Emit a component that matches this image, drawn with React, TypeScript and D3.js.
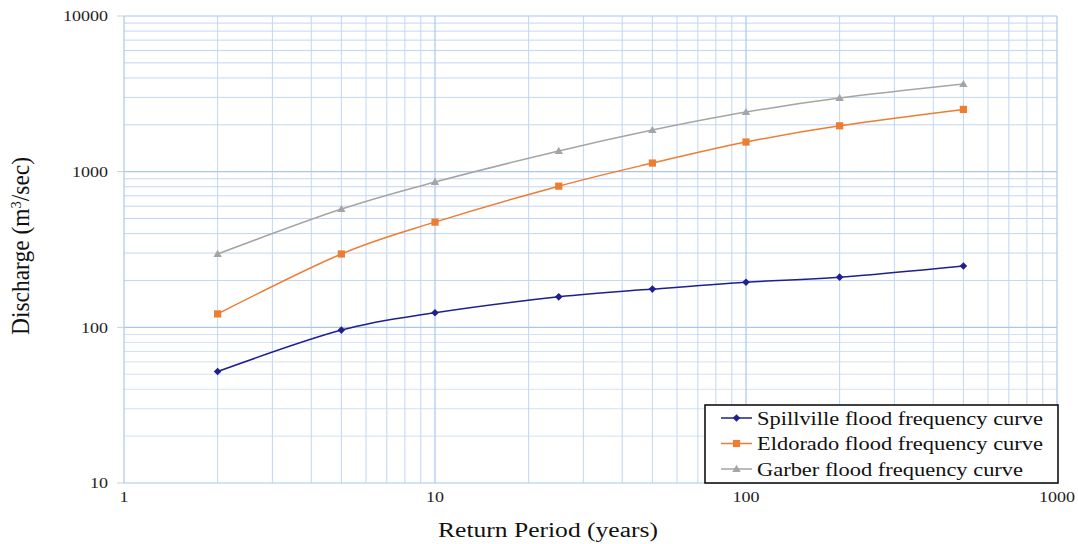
import React from "react";
import * as d3 from "d3";

const returnPeriods = [2, 5, 10, 25, 50, 100, 200, 500];
const spillville = [52, 96, 124, 157, 176, 195, 210, 248];
const eldorado = [122, 296, 474, 807, 1136, 1550, 1970, 2510];
const garber = [296, 575, 858, 1357, 1850, 2414, 2970, 3653];
const seriesNames = [
  "Spillville flood frequency curve",
  "Eldorado flood frequency curve",
  "Garber flood frequency curve",
];
const seriesColors = ["#1f1f8f", "#ed7d31", "#a5a5a5"];
const xTicks = [1, 10, 100, 1000];
const yTicks = [10, 100, 1000, 10000];

const W = 1078;
const H = 544;
const M = { left: 124, right: 1057, top: 16, bottom: 483 };
const SX = 1.2;
const FONT = { fontFamily: "Liberation Serif" };

function Marker({ kind, x, y, color }: { kind: number; x: number; y: number; color: string }) {
  if (kind === 0) {
    const s = 3.8;
    return <path d={`M${x},${y - s}L${x + s},${y}L${x},${y + s}L${x - s},${y}Z`} fill={color} />;
  }
  if (kind === 1) {
    return <rect x={x - 3.6} y={y - 3.6} width={7.2} height={7.2} fill={color} />;
  }
  const s = 4.2;
  return <path d={`M${x},${y - s}L${x + s},${y + s * 0.7}L${x - s},${y + s * 0.7}Z`} fill={color} />;
}

export default function App() {
  const x = d3.scaleLog().domain([1, 1000]).range([M.left, M.right]);
  const y = d3.scaleLog().domain([10, 10000]).range([M.bottom, M.top]);

  const xMinor: number[] = [];
  for (let d = 1; d < 1000; d *= 10) for (let k = 2; k <= 9; k++) xMinor.push(d * k);
  const yMinor: number[] = [];
  for (let d = 10; d < 10000; d *= 10) for (let k = 2; k <= 9; k++) yMinor.push(d * k);

  const series = [spillville, eldorado, garber];
  const line = d3
    .line<number>()
    .x((_, i) => x(returnPeriods[i]))
    .y((v) => y(v))
    .curve(d3.curveCardinal.tension(0));

  const gridColor = "#c2d6f3";
  const legendLens = [286, 286, 266];

  return (
    <svg width={W} height={H} style={{ position: "absolute", left: 0, top: 0, background: "#fff" }}>
      <rect x={0} y={0} width={W} height={H} fill="#fff" />
      {yMinor.map((v) => (
        <line key={"ym" + v} x1={M.left} x2={M.right} y1={y(v)} y2={y(v)} stroke={v < 100 ? "#d3e1f6" : gridColor} strokeWidth={1} />
      ))}
      {xMinor.map((v) => (
        <line key={"xm" + v} x1={x(v)} x2={x(v)} y1={M.top} y2={M.bottom} stroke={gridColor} strokeWidth={1} />
      ))}
      {yTicks.map((v) => (
        <line key={"yM" + v} x1={M.left} x2={M.right} y1={y(v)} y2={y(v)} stroke="#aac6ee" strokeWidth={1.2} />
      ))}
      {xTicks.map((v) => (
        <line key={"xM" + v} x1={x(v)} x2={x(v)} y1={M.top} y2={M.bottom} stroke="#aac6ee" strokeWidth={1.2} />
      ))}
      {yTicks.map((v) => (
        <g key={"yt" + v}>
          <line x1={M.left - 7} x2={M.left} y1={y(v)} y2={y(v)} stroke="#d0d0d0" />
          <text
            transform={`translate(${M.left - 16},${y(v)}) scale(${SX},1)`}
            dy="0.35em"
            textAnchor="end"
            style={FONT}
            fontSize={15}
            fill="#222"
          >
            {v}
          </text>
        </g>
      ))}
      {xTicks.map((v) => (
        <text
          key={"xt" + v}
          transform={`translate(${x(v)},${M.bottom + 19}) scale(${SX},1)`}
          textAnchor="middle"
          style={FONT}
          fontSize={15}
          fill="#222"
        >
          {v}
        </text>
      ))}
      {series.map((s, si) => (
        <g key={"s" + si}>
          <path d={line(s) || ""} fill="none" stroke={seriesColors[si]} strokeWidth={1.5} />
          {s.map((v, i) => (
            <Marker key={i} kind={si} x={x(returnPeriods[i])} y={y(v)} color={seriesColors[si]} />
          ))}
        </g>
      ))}
      <text
        transform={`translate(29,246) scale(1.15,1) rotate(-90)`}
        textAnchor="middle"
        style={FONT}
        fontSize={21}
        fill="#111"
        textLength={178}
        lengthAdjust="spacingAndGlyphs"
      >
        Discharge (m<tspan dy="-7" fontSize={13}>3</tspan>
        <tspan dy="7">/sec)</tspan>
      </text>
      <text
        x={438}
        y={537}
        style={FONT}
        fontSize={20}
        fill="#111"
        textLength={220}
        lengthAdjust="spacingAndGlyphs"
      >
        Return Period (years)
      </text>
      <g>
        <rect x={705} y={405} width={353} height={78} fill="#fff" stroke="#111" strokeWidth={1.6} />
        {seriesNames.map((n, i) => {
          const ly = 418 + i * 25.5;
          return (
            <g key={"lg" + i}>
              <line x1={721} x2={752} y1={ly} y2={ly} stroke={seriesColors[i]} strokeWidth={1.5} />
              <Marker kind={i} x={736.5} y={ly} color={seriesColors[i]} />
              <text
                x={757}
                y={ly}
                dy="0.35em"
                style={FONT}
                fontSize={19}
                fill="#111"
                textLength={legendLens[i]}
                lengthAdjust="spacingAndGlyphs"
              >
                {n}
              </text>
            </g>
          );
        })}
      </g>
    </svg>
  );
}
